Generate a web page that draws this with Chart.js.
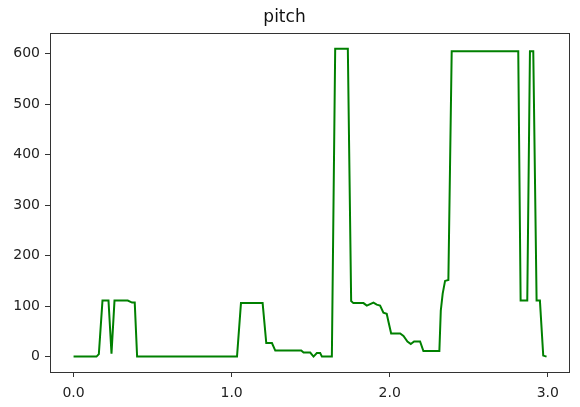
<!DOCTYPE html>
<html>
<head>
<meta charset="utf-8">
<script src="https://cdn.jsdelivr.net/npm/chart.js@4/dist/chart.umd.min.js"></script>
<style>
  html, body { margin: 0; padding: 0; background: #fff; }
  #wrap { width: 580px; height: 407px; }
</style>
</head>
<body>
<div id="wrap"><canvas id="chart1"></canvas></div>
<script>
/* datos */
var times = [0, 0.145, 0.16, 0.183, 0.221, 0.24, 0.259, 0.343, 0.37, 0.387, 0.402,
    1.034, 1.059, 1.196, 1.219, 1.255, 1.276, 1.44, 1.455, 1.497, 1.518, 1.539, 1.56, 1.571,
    1.634, 1.655, 1.735, 1.756, 1.77, 1.834, 1.855, 1.876, 1.897, 1.918, 1.939, 1.96, 1.981,
    1.992, 2.009, 2.066, 2.087, 2.112, 2.133, 2.154, 2.192, 2.213, 2.314, 2.323, 2.335, 2.35,
    2.371, 2.392, 2.813, 2.828, 2.87, 2.887, 2.908, 2.929, 2.95, 2.971, 2.992];
var pitch = [0, 0, 5, 111, 111, 6, 111, 111, 107, 107, 0,
    0, 106, 106, 27, 27, 12, 12, 8, 8, 0, 7, 7, 0,
    0, 610, 610, 110, 106, 106, 101, 104, 107, 103, 101, 87, 85,
    69, 46, 46, 41, 30, 25, 30, 30, 11, 11, 91, 125, 150,
    152, 605, 605, 111, 111, 605, 605, 111, 111, 2, 0];
var xTicks = [0, 1, 2, 3];
var yTicks = [0, 100, 200, 300, 400, 500, 600];

var points = [];
for (var i = 0; i < times.length; i++) {
    points.push({ x: times[i], y: pitch[i] });
}

/* caja alrededor del area (como matplotlib) */
var frameBox = {
    id: 'frameBox',
    afterDraw: function (chart) {
        var a = chart.chartArea;
        var ctx = chart.ctx;
        ctx.save();
        ctx.strokeStyle = '#333';
        ctx.lineWidth = 1;
        ctx.strokeRect(Math.round(a.left) + 0.5, Math.round(a.top) + 0.5,
            Math.round(a.right - a.left), Math.round(a.bottom - a.top));
        ctx.restore();
    }
};

var font = { family: 'DejaVu Sans', size: 14 };

var ctx1 = document.getElementById('chart1').getContext('2d');
var myChart = new Chart(ctx1, {
    type: 'line',
    data: {
        datasets: [{
            label: 'pitch',
            data: points,
            borderColor: '#008000',
            borderWidth: 2,
            pointRadius: 0,
            tension: 0,
            fill: false
        }]
    },
    options: {
        responsive: true,
        maintainAspectRatio: false,
        animation: false,
        layout: { padding: { left: 0, right: 11, top: 0, bottom: 0 } },
        plugins: {
            legend: { display: false },
            tooltip: { enabled: false },
            title: {
                display: true,
                text: 'pitch',
                color: '#111',
                font: { family: 'DejaVu Sans', size: 17, weight: 'normal' },
                padding: { top: 7, bottom: 6 }
            }
        },
        scales: {
            x: {
                type: 'linear',
                min: -0.149,
                max: 3.134,
                afterBuildTicks: function (scale) {
                    scale.ticks = xTicks.map(function (v) { return { value: v }; });
                },
                afterFit: function (scale) { scale.height = 35; },
                grid: { drawOnChartArea: false, drawTicks: true, tickLength: 5, tickColor: '#333' },
                border: { color: '#333' },
                ticks: {
                    color: '#222',
                    font: font,
                    padding: 8,
                    maxRotation: 0,
                    callback: function (v) { return Number(v).toFixed(1); }
                }
            },
            y: {
                min: -30.5,
                max: 640.5,
                afterBuildTicks: function (scale) {
                    scale.ticks = yTicks.map(function (v) { return { value: v }; });
                },
                afterFit: function (scale) { scale.width = 50; },
                grid: { drawOnChartArea: false, drawTicks: true, tickLength: 5, tickColor: '#333' },
                border: { color: '#333' },
                ticks: { color: '#222', font: font, padding: 5 }
            }
        }
    },
    plugins: [frameBox]
});
</script>
</body>
</html>
